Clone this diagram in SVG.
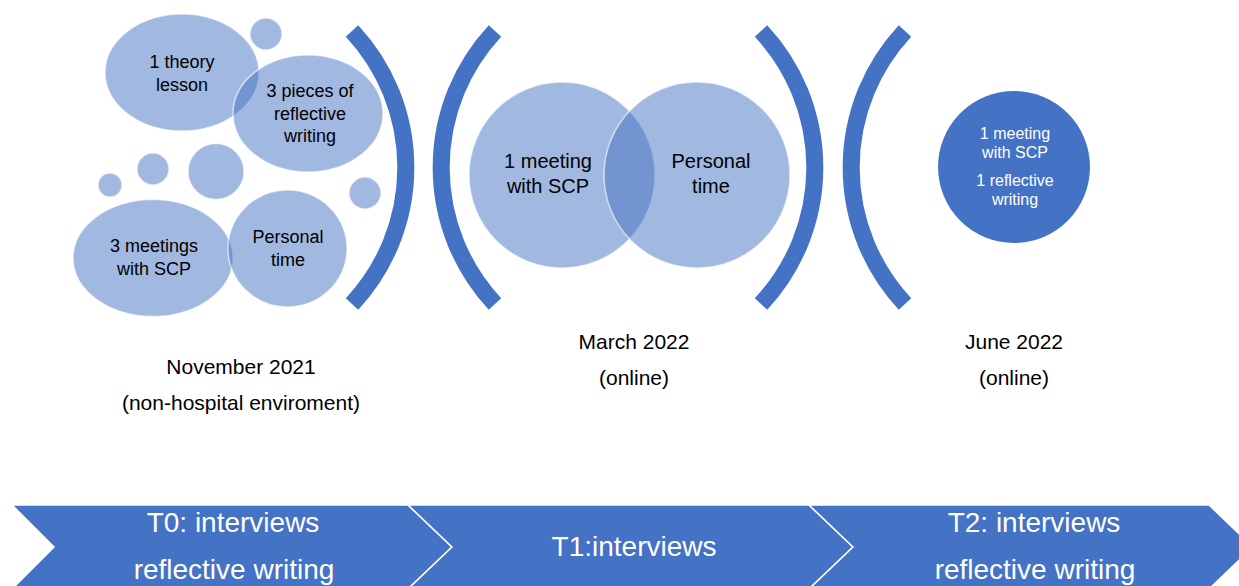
<svg xmlns="http://www.w3.org/2000/svg" width="1239" height="586" viewBox="0 0 1239 586">
<style>
.lt{fill:#4472C4;fill-opacity:0.5;stroke:#FFFFFF;stroke-opacity:0.6;stroke-width:1.5}
.dk{fill:#4472C4}
.br{fill:none;stroke:#4472C4;stroke-width:17;stroke-linecap:butt}
.chev{fill:#4472C4;stroke:#FFFFFF;stroke-width:1.5}
text{font-family:"Liberation Sans",Arial,sans-serif;text-anchor:middle;fill:#000000}
.w{fill:#FFFFFF}
.s18{font-size:18px}
.s20{font-size:20px}
.s16{font-size:16px}
.s21{font-size:21px}
.s28{font-size:28px}
</style>
<rect width="1239" height="586" fill="#FFFFFF"/>

<g id="left-cluster">
  <g id="n-theory"><ellipse class="lt" cx="182" cy="72.5" rx="77" ry="58.5"/></g>
  <g id="n-bubble1"><circle class="lt" cx="266" cy="34" r="16"/></g>
  <g id="n-reflective"><ellipse class="lt" cx="308" cy="113.5" rx="75" ry="58.5"/></g>
  <g id="n-bubble2"><circle class="lt" cx="110" cy="185" r="12"/></g>
  <g id="n-bubble3"><circle class="lt" cx="153" cy="169" r="16"/></g>
  <g id="n-bubble4"><circle class="lt" cx="216" cy="171.5" r="28"/></g>
  <g id="n-bubble5"><circle class="lt" cx="365" cy="193" r="16"/></g>
  <g id="n-meetings3"><ellipse class="lt" cx="153" cy="258" rx="80" ry="58.5"/></g>
  <g id="n-personal1"><ellipse class="lt" cx="287.5" cy="248.5" rx="59.5" ry="58.5"/></g>
  <text class="s18" x="182" y="68">1 theory</text>
  <text class="s18" x="182" y="91">lesson</text>
  <text class="s18" x="310" y="97">3 pieces of</text>
  <text class="s18" x="310" y="120">reflective</text>
  <text class="s18" x="310" y="142">writing</text>
  <text class="s18" x="154" y="252">3 meetings</text>
  <text class="s18" x="154" y="275">with SCP</text>
  <text class="s18" x="288" y="243">Personal</text>
  <text class="s18" x="288" y="266">time</text>
</g>

<g id="middle-cluster">
  <g id="n-meeting1"><circle class="lt" cx="562" cy="175" r="93"/></g>
  <g id="n-personal2"><circle class="lt" cx="697" cy="175" r="93"/></g>
  <text class="s20" x="548" y="168">1 meeting</text>
  <text class="s20" x="548" y="193">with SCP</text>
  <text class="s20" x="711" y="168">Personal</text>
  <text class="s20" x="711" y="193">time</text>
</g>

<g id="right-cluster">
  <g id="n-june"><circle class="dk" cx="1014" cy="167" r="76"/></g>
  <text class="s16 w" x="1015" y="139">1 meeting</text>
  <text class="s16 w" x="1015" y="158">with SCP</text>
  <text class="s16 w" x="1015" y="186">1 reflective</text>
  <text class="s16 w" x="1015" y="205">writing</text>
</g>

<g id="brackets">
  <path class="br" d="M 352 31 A 200 200 0 0 1 352 304"/>
  <path class="br" d="M 495 31 A 200 200 0 0 0 495 304"/>
  <path class="br" d="M 761 31 A 200 200 0 0 1 761 304"/>
  <path class="br" d="M 905 31 A 200 200 0 0 0 905 304"/>
</g>

<g id="labels">
  <text class="s21" x="241" y="374">November 2021</text>
  <text class="s21" x="241" y="410">(non-hospital enviroment)</text>
  <text class="s21" x="634" y="349">March 2022</text>
  <text class="s21" x="634" y="385">(online)</text>
  <text class="s21" x="1014" y="349">June 2022</text>
  <text class="s21" x="1014" y="385">(online)</text>
</g>

<g id="timeline">
  <g id="n-t0">
    <polygon class="chev" points="12,505 408,505 452,547 408,589 12,589 54,547"/>
    <text class="s28 w" x="233" y="532">T0: interviews</text>
    <text class="s28 w" x="234" y="579">reflective writing</text>
  </g>
  <g id="n-t1">
    <polygon class="chev" points="408,505 809,505 853,547 809,589 408,589 452,547"/>
    <text class="s28 w" x="634" y="556">T1:interviews</text>
  </g>
  <g id="n-t2">
    <polygon class="chev" points="809,505 1209,505 1253,547 1209,589 809,589 853,547"/>
    <text class="s28 w" x="1034" y="532">T2: interviews</text>
    <text class="s28 w" x="1035" y="579">reflective writing</text>
  </g>
</g>
</svg>
